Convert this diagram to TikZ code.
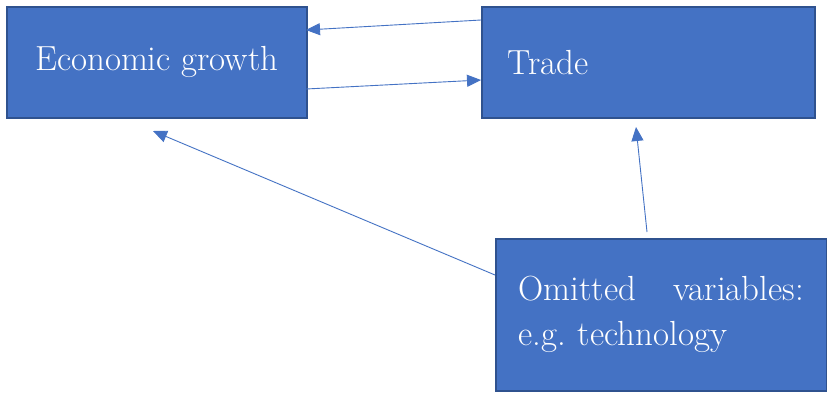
\documentclass[tikz,border=0pt]{standalone}
\usetikzlibrary{arrows.meta}
\definecolor{boxfill}{HTML}{4472C4}
\definecolor{boxline}{HTML}{2F528F}
\definecolor{arrowc}{HTML}{4472C4}
\tikzset{
  box/.style={draw=boxline, line width=1.5bp, fill=boxfill, text=white, anchor=north west,
    font=\fontsize{35}{45}\selectfont\frenchspacing, inner sep=0pt},
  conn/.style={draw=arrowc, line width=0.9bp, -{Triangle[length=14bp,width=12bp]}}
}
\begin{document}
\begin{tikzpicture}[x=1bp,y=-1bp]
\useasboundingbox[fill=white] (0,0) rectangle (827,392);
\node[box, minimum width=300bp, minimum height=111bp] (econ) at (6,6) {Economic growth};
\node[box, minimum width=333bp, minimum height=111bp, text width=281bp, align=left, inner xsep=26bp] (trade) at (481,6) {Trade};
\node[box, minimum width=331bp, minimum height=152bp, text width=285bp, align=left, inner xsep=23bp] (omit) at (495,238) {Omitted\hfill variables:\\e.g. technology};
% connector ends
\coordinate (t1) at (481,20);
\coordinate (e1) at (306,30);
\coordinate (e2) at (306,89);
\coordinate (t2) at (481,80);
\coordinate (o1) at (495,275);
\coordinate (etip) at (153,131);
\coordinate (o2) at (647,232);
\coordinate (ttip) at (636,127);
\draw[conn] (t1) -- (e1);
\draw[conn] (e2) -- (t2);
\draw[conn] (o1) -- (etip);
\draw[conn] (o2) -- (ttip);
\end{tikzpicture}
\end{document}
